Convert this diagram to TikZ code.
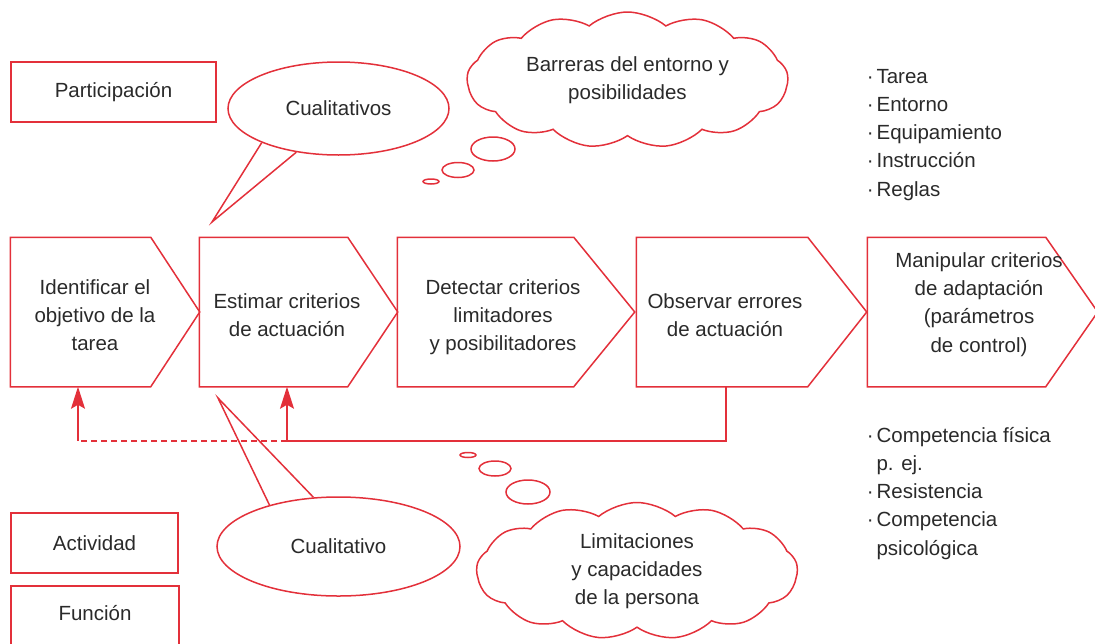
\documentclass[tikz,border=0pt]{standalone}
\usepackage{fontspec}
\setmainfont{Liberation Sans}
\usetikzlibrary{shapes.symbols,shapes.geometric,arrows.meta,calc}
\definecolor{lred}{HTML}{E3303A}
\definecolor{txt}{HTML}{2A2A2A}
\begin{document}
\begin{tikzpicture}[x=1pt,y=-1pt,line width=1.5pt,
  every node/.style={text=txt,font=\fontsize{20.5}{28.3}\selectfont},
  lbox/.style={draw=lred,rectangle,inner sep=0pt},
  chevbody/.style={inner sep=0pt,minimum height=148pt},
  chevline/.style={draw=lred,line join=miter},
  label/.style={align=center,inner sep=0pt},
  callout/.style={draw=lred,fill=white,ellipse,inner sep=0pt},
  thought/.style={draw=lred,cloud,cloud puffs=13,cloud puff arc=80,cloud ignores aspect,inner sep=0pt,align=center},
  bubble/.style={draw=lred,ellipse,inner sep=0pt},
  conn/.style={draw=lred},
  arr/.style={draw=lred,-{Stealth[length=22pt,width=14pt,inset=4pt]},fill=lred}
]
\path[use as bounding box,clip] (0,0) rectangle (1095,643);

% left boxes
\node[lbox,minimum width=205pt,minimum height=60pt] (part) at (113.5,92) {Participación};
\node[lbox,minimum width=167pt,minimum height=60pt] (act) at (94.5,543) {Actividad};
\node[lbox,minimum width=168pt,minimum height=80pt] (func) at (95,626) {};
\node[label] (funct) at (95,613) {Función};

% upper callout
\node[callout,minimum width=221pt,minimum height=93pt] (cual1) at (338.5,108.5) {Cualitativos};
\coordinate (tip1) at (212,222);
\draw[conn] (cual1.204) -- (tip1) -- (cual1.226);

% lower callout
\node[callout,minimum width=243pt,minimum height=99pt] (cual2) at (338.5,546.5) {Cualitativo};
\coordinate (tip2) at (218,398);
\draw[conn] (cual2.149) -- (tip2) -- (cual2.117);

% thought clouds
\node[thought,minimum width=321pt,minimum height=136pt] (cl1) at (627.5,80) {Barreras del entorno y\\posibilidades};
\node[bubble,minimum width=44pt,minimum height=24pt] (bu1) at (493,149) {};
\node[bubble,minimum width=32pt,minimum height=15pt] (bu2) at (458,170) {};
\node[bubble,minimum width=16pt,minimum height=5pt] (bu3) at (431,181.5) {};

\node[thought,minimum width=321pt,minimum height=137pt] (cl2) at (637,571) {Limitaciones\\y capacidades\\de la persona};
\node[bubble,minimum width=44pt,minimum height=24pt] (bl1) at (528,492) {};
\node[bubble,minimum width=32pt,minimum height=15pt] (bl2) at (495,468.5) {};
\node[bubble,minimum width=16pt,minimum height=5pt] (bl3) at (468,455) {};

% chevrons
\node[chevbody,minimum width=139pt] (c1) at (80.5,312) {};
\node[chevbody,minimum width=147pt] (c2) at (273.5,312) {};
\node[chevbody,minimum width=175pt] (c3) at (485.5,312) {};
\node[chevbody,minimum width=170pt] (c4) at (722,312) {};
\node[chevbody,minimum width=177pt] (c5) at (956.5,312) {};
\draw[chevline] (c1.north west) -- (c1.north east) -- ($(c1.east)+(49,0)$) -- (c1.south east) -- (c1.south west) -- cycle;
\draw[chevline] (c2.north west) -- (c2.north east) -- ($(c2.east)+(50,0)$) -- (c2.south east) -- (c2.south west) -- cycle;
\draw[chevline] (c3.north west) -- (c3.north east) -- ($(c3.east)+(61,0)$) -- (c3.south east) -- (c3.south west) -- cycle;
\draw[chevline] (c4.north west) -- (c4.north east) -- ($(c4.east)+(59,0)$) -- (c4.south east) -- (c4.south west) -- cycle;
\draw[chevline] (c5.north west) -- (c5.north east) -- ($(c5.east)+(52,0)$) -- (c5.south east) -- (c5.south west) -- cycle;

\node[label] (t1) at (95,315) {Identificar el\\objetivo de la\\tarea};
\node[label] (t2) at (287,315.5) {Estimar criterios\\de actuación};
\node[label] (t3) at (503,317) {Detectar criterios\\limitadores\\y posibilitadores};
\node[label] (t4) at (725,315) {Observar errores\\de actuación};
\node[label] (t5) at (979,304.5) {Manipular criterios\\de adaptación\\(parámetros\\de control)};

% feedback connectors
\coordinate (j) at (287,441);
\coordinate (k) at (78,441);
\draw[conn] ([xshift=4pt]c4.south) |- (j);
\draw[arr] (j) -- (j |- c2.south);
\draw[conn,dashed,dash pattern=on 6pt off 4pt] (j) -- (k);
\draw[arr] (k) -- (k |- c1.south);

% lists
\node[anchor=base west,inner sep=0pt] (list1) at (866,83) {\begin{tabular}[t]{@{}l@{\hspace{3pt}}l@{}}
·&Tarea\\ ·&Entorno\\ ·&Equipamiento\\ ·&Instrucción\\ ·&Reglas\end{tabular}};
\node[anchor=base west,inner sep=0pt] (list2) at (866,442) {\begin{tabular}[t]{@{}l@{\hspace{3pt}}l@{}}
·&Competencia física\\ &p. ej.\\ ·&Resistencia\\ ·&Competencia\\ &psicológica\end{tabular}};
\end{tikzpicture}
\end{document}
